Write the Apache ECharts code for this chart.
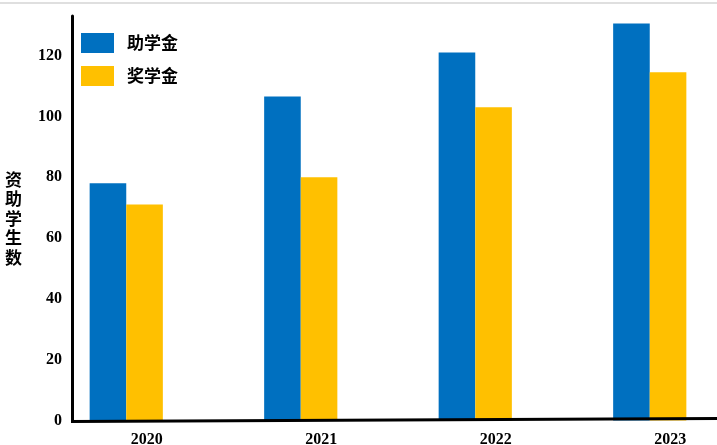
<!DOCTYPE html>
<html>
<head>
<meta charset="utf-8">
<script src="https://cdn.jsdelivr.net/npm/echarts@6/dist/echarts.min.js"></script>
<style>html,body{margin:0;padding:0;background:#fff;}#c{width:717px;height:445px;}</style>
</head>
<body>
<div id="c"></div>
<script>
var categories = ['2020', '2021', '2022', '2023'];
var zhuxuejin = [78, 106.5, 121, 130.5];
var jiangxuejin = [71, 80, 103, 114.5];
var seriesNames = ['助学金', '奖学金'];
var yAxisName = '资助学生数';

var chart = echarts.init(document.getElementById('c'), null, {renderer: 'canvas'});
var cjk = '"Noto Sans CJK SC", sans-serif';
var serif = '"Liberation Serif", "Times New Roman", serif';
chart.setOption({
  animation: false,
  backgroundColor: '#fff',
  grid: {left: 39, width: 698, top: 16, bottom: 24.5, containLabel: false, outerBoundsMode: 'none'},
  legend: {
    orient: 'vertical', left: 81, top: 33, padding: 0, itemWidth: 33, itemHeight: 20, itemGap: 13,
    icon: 'rect',
    textStyle: {fontFamily: cjk, fontWeight: 'bold', fontSize: 17, color: '#000', padding: [0,0,0,8]},
    data: seriesNames
  },
  xAxis: {
    type: 'category', data: categories,
    axisLine: {show: false}, axisTick: {show: false},
    axisLabel: {fontFamily: serif, fontWeight: 'bold', fontSize: 16, color: '#000', margin: 11, padding: [0,0,0,41]}
  },
  yAxis: {
    type: 'value', min: 0, max: 133, interval: 20, offset: -33,
    name: yAxisName.split('').join('\n'), nameLocation: 'middle', nameRotate: 0, nameGap: 50,
    nameTextStyle: {fontFamily: cjk, fontWeight: 'bold', fontSize: 17, lineHeight: 19.6, color: '#000'},
    axisLine: {show: true, lineStyle: {color: '#000', width: 3}},
    axisTick: {show: false}, splitLine: {show: false},
    axisLabel: {fontFamily: serif, fontWeight: 'bold', fontSize: 16, color: '#000', margin: 10, showMaxLabel: false}
  },
  series: [
    {name: seriesNames[0], type: 'bar', data: zhuxuejin, barWidth: 36.6, barGap: '0%', itemStyle: {color: '#0070C0'}},
    {name: seriesNames[1], type: 'bar', data: jiangxuejin, barWidth: 36.6, barGap: '0%', itemStyle: {color: '#FFC000'}}
  ],
  graphic: [
    {type: 'rect', shape: {x: 0, y: 2.5, width: 717, height: 1}, style: {fill: '#c0c0c0'}, silent: true},
    {type: 'line', shape: {x1: 71, y1: 421.5, x2: 717, y2: 418.5}, style: {stroke: '#000', lineWidth: 3}, silent: true, z: 10}
  ]
});
</script>
</body>
</html>
